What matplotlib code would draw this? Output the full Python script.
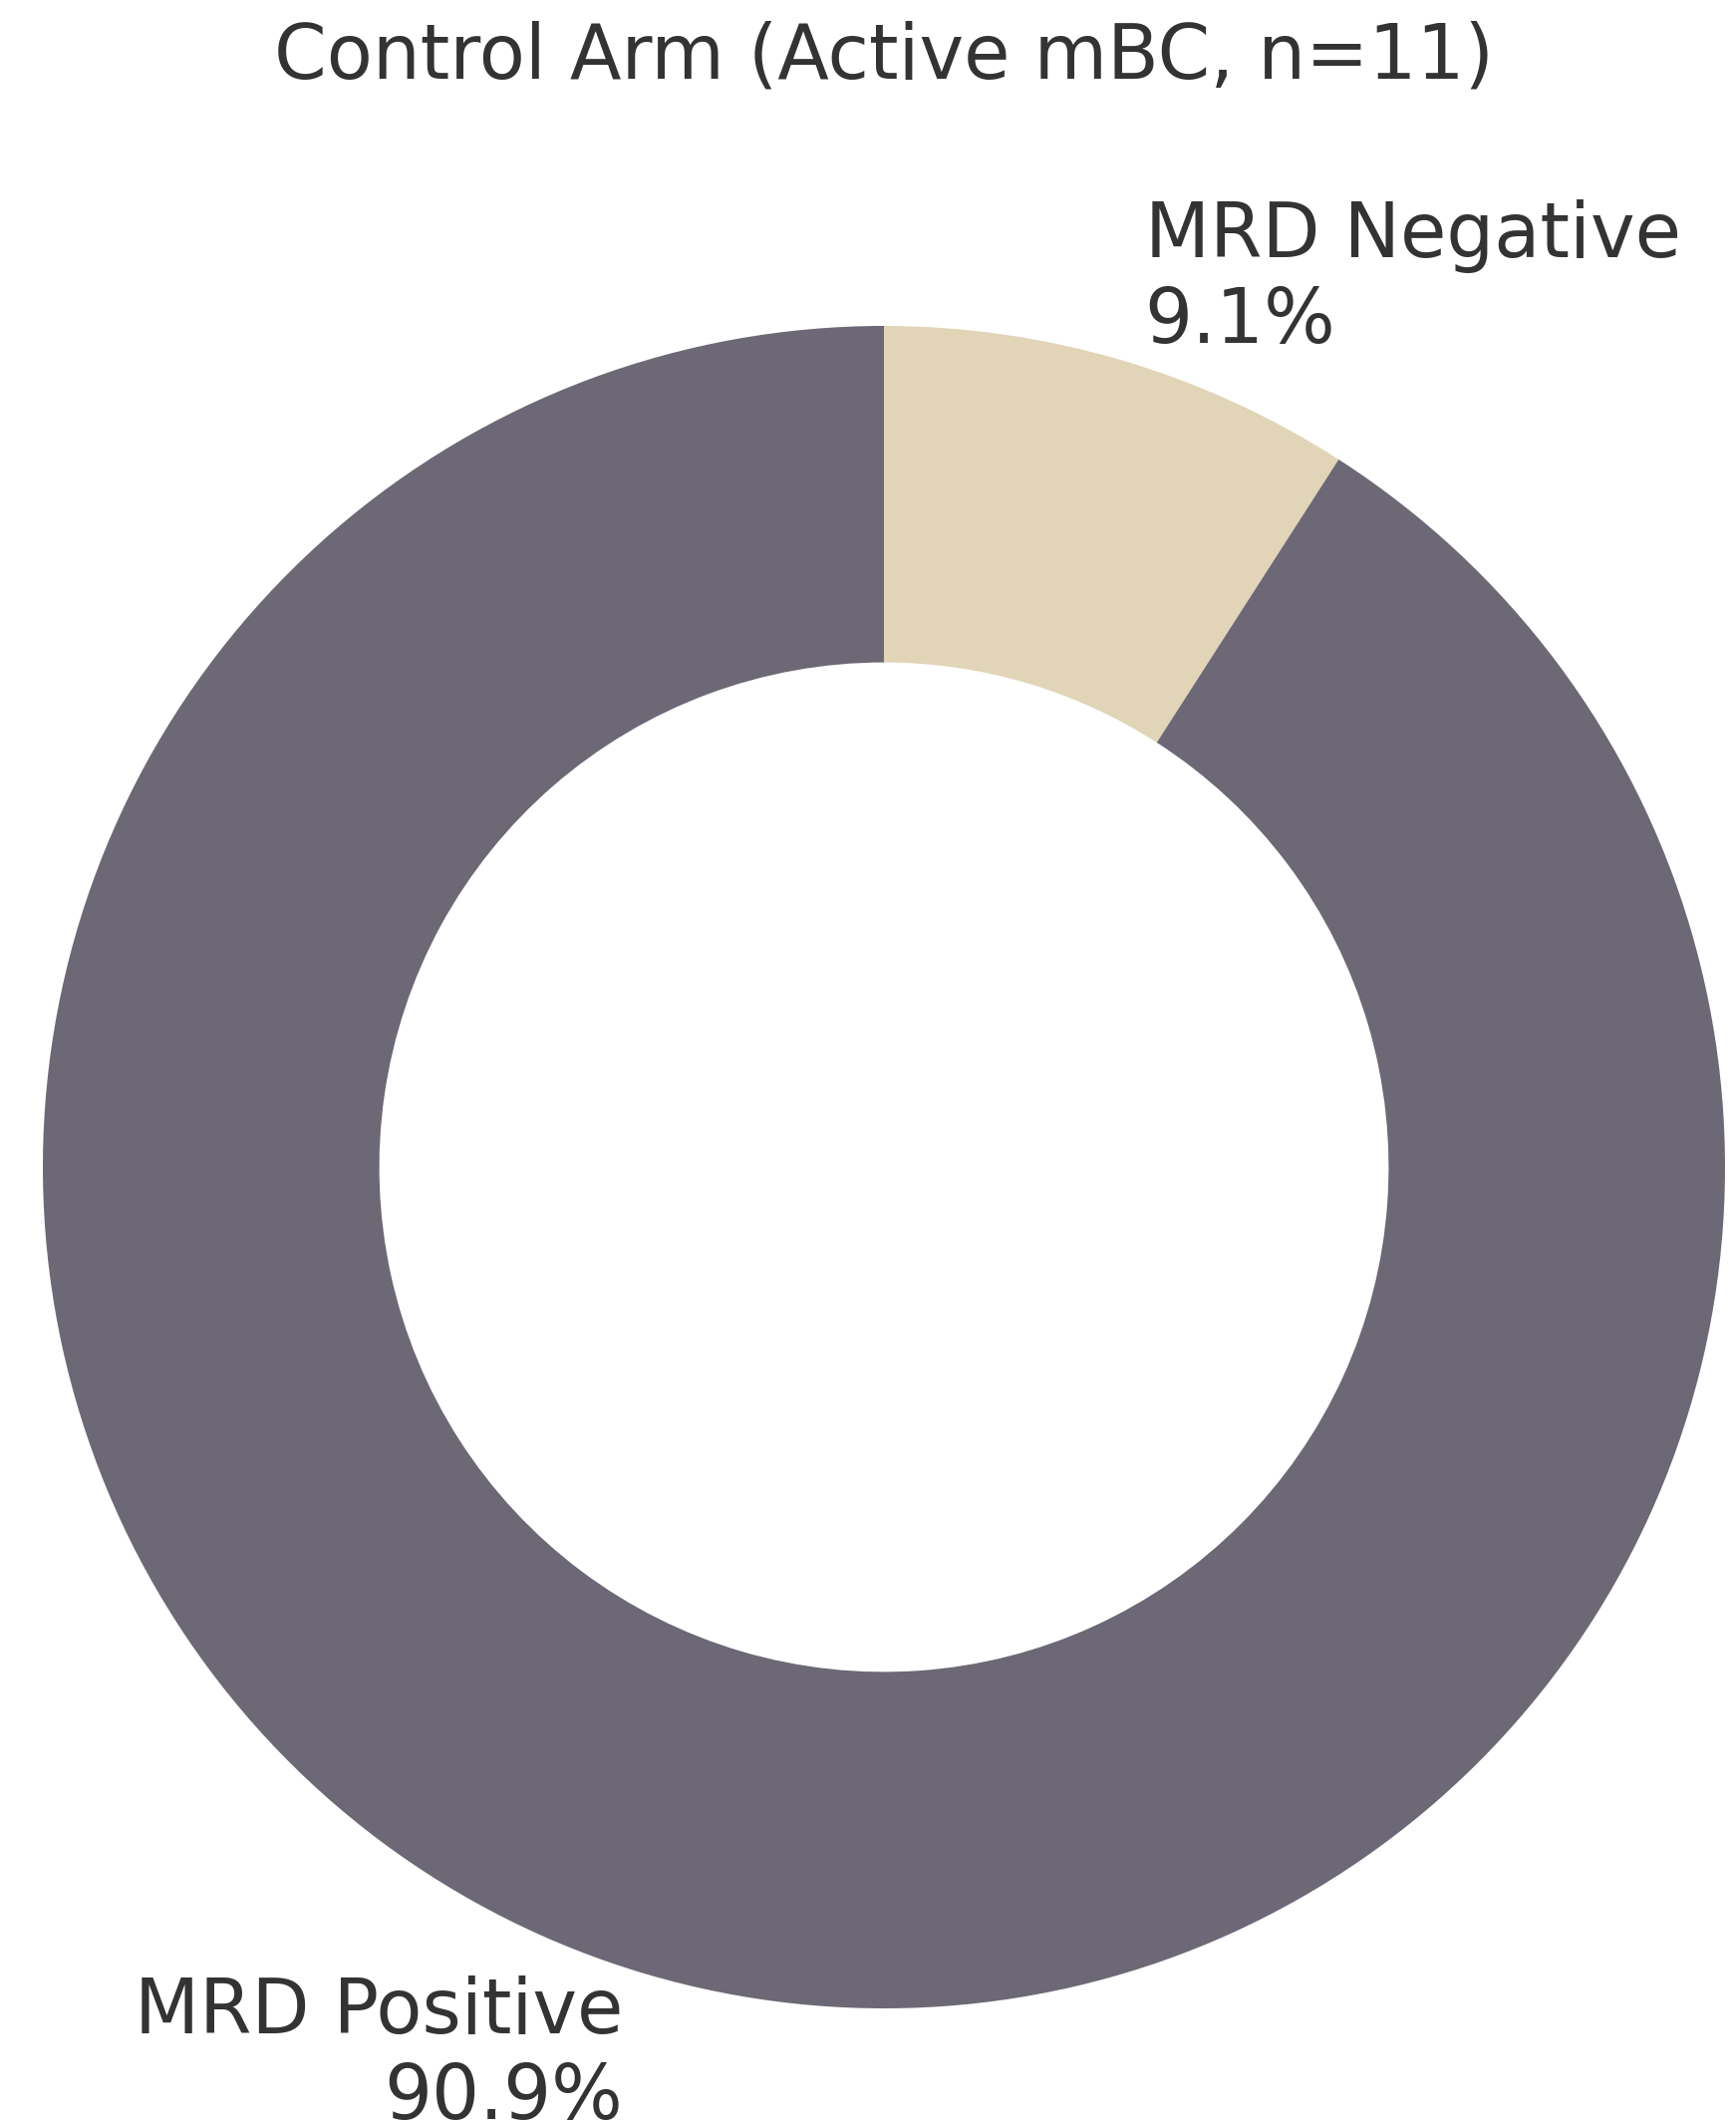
import matplotlib
matplotlib.use('Agg')
import matplotlib.pyplot as plt

plt.rcParams['font.family'] = ['DejaVu Sans']

# 数据
categories = ['MRD Negative', 'MRD Positive']
counts = [1, 10]
colors = ['#E1D4B7', '#6C6875']
title = 'Control Arm (Active mBC, n=11)'

total = sum(counts)
labels = [f'{c}\n{v / total * 100:.1f}%' for c, v in zip(categories, counts)]

fig = plt.figure(figsize=(8.71, 10.65), dpi=200)
ax = fig.add_axes([0, 0, 1, 1])

ax.pie(counts, labels=labels, colors=colors, startangle=90, counterclock=False,
       labeldistance=1.1, wedgeprops=dict(width=0.4, linewidth=0),
       textprops=dict(color='#333333', fontsize=27.2))

# 让圆心和半径对上原图
ax.set_xlim(-887 / 844, (1742 - 887) / 844)
ax.set_ylim(-(2130 - 1171) / 844, 1171 / 844)
ax.set_aspect('auto')
ax.axis('off')

ax.text(0, 1.294, title, ha='center', va='baseline', fontsize=27.2, color='#333333')

plt.savefig('out.png', dpi=200, facecolor='white')
plt.close()
